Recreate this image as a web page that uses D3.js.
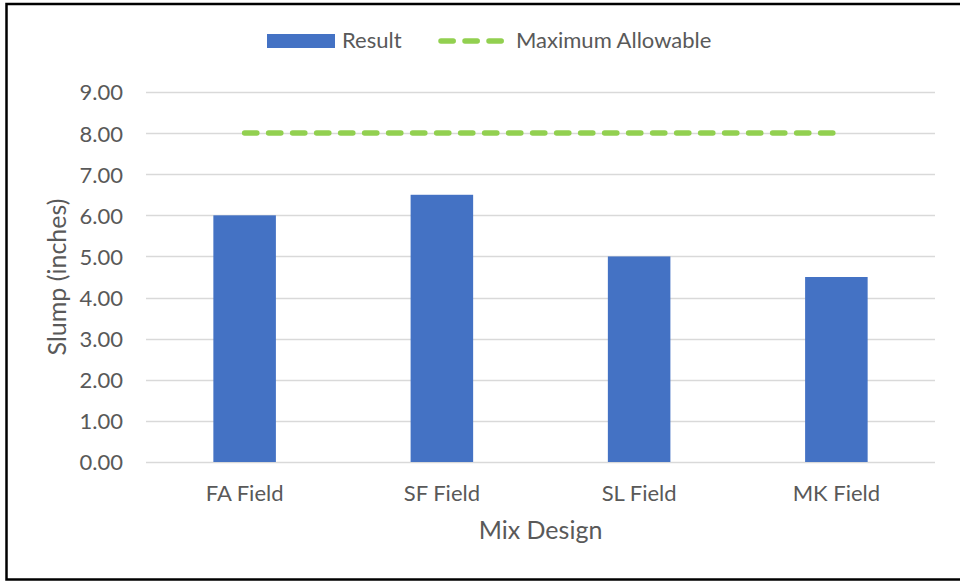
<!DOCTYPE html>
<html>
<head>
<meta charset="utf-8">
<script src="https://cdn.jsdelivr.net/npm/d3@7"></script>
<style>
  html, body { margin: 0; padding: 0; background: #fff; }
  svg { display: block; }
  text { font-family: Lato, "Open Sans", sans-serif; fill: #595959; }
</style>
</head>
<body>
<svg id="chart" width="960" height="581"></svg>
<script>
// Slump results by mix design
const categories = ["FA Field", "SF Field", "SL Field", "MK Field"];
const resultValues = [6.0, 6.5, 5.0, 4.5];
const maxAllowable = [8.0, 8.0, 8.0, 8.0];
const yTicks = [0, 1, 2, 3, 4, 5, 6, 7, 8, 9];
const seriesNames = ["Result", "Maximum Allowable"];

const W = 960, H = 581;
const margin = { left: 146, right: 25, top: 92, bottom: 119 };

const svg = d3.select("#chart");

// frame
svg.append("path")
  .attr("d", `M ${W + 5} 4 H 6.5 V 579.5 H ${W + 5}`)
  .attr("fill", "none")
  .attr("stroke", "#000")
  .attr("stroke-width", 2.5);

const x = d3.scaleBand()
  .domain(categories)
  .range([margin.left, W - margin.right])
  .paddingInner(0.683)
  .paddingOuter(0.3415);

const xCenter = d3.scaleBand()
  .domain(categories)
  .range([margin.left, W - margin.right]);

const y = d3.scaleLinear()
  .domain([0, 9])
  .range([H - margin.bottom, margin.top]);

// horizontal gridlines
svg.append("g")
  .selectAll("line")
  .data(yTicks)
  .join("line")
  .attr("x1", margin.left)
  .attr("x2", W - margin.right)
  .attr("y1", d => Math.round(y(d)) + 0.5)
  .attr("y2", d => Math.round(y(d)) + 0.5)
  .attr("stroke", "#d9d9d9")
  .attr("stroke-width", 1.3);

// y axis tick labels
const yAxis = d3.axisLeft(y)
  .tickValues(yTicks)
  .tickFormat(d3.format(".2f"))
  .tickSize(0)
  .tickPadding(0);
const gy = svg.append("g")
  .attr("transform", `translate(${margin.left - 23},0)`)
  .call(yAxis);
gy.select(".domain").remove();
gy.selectAll("text")
  .style("font-family", "Lato, sans-serif")
  .style("font-size", "22px")
  .attr("fill", "#595959")
  .attr("dy", "0.36em");

// bars
svg.append("g")
  .selectAll("rect")
  .data(categories.map((c, i) => ({ c, v: resultValues[i] })))
  .join("rect")
  .attr("x", d => x(d.c))
  .attr("width", x.bandwidth())
  .attr("y", d => y(d.v))
  .attr("height", d => y(0) - y(d.v))
  .attr("fill", "#4472c4");

// maximum allowable line
const line = d3.line()
  .x(d => xCenter(d.c) + xCenter.bandwidth() / 2)
  .y(d => y(d.v));
svg.append("path")
  .datum(categories.map((c, i) => ({ c, v: maxAllowable[i] })))
  .attr("d", line)
  .attr("fill", "none")
  .attr("stroke", "#92d050")
  .attr("stroke-width", 5.5)
  .attr("stroke-linecap", "round")
  .attr("stroke-dasharray", "12.2 11.8");

// x axis labels
const xAxis = d3.axisBottom(xCenter).tickSize(0).tickPadding(0);
const gx = svg.append("g")
  .attr("transform", `translate(0,${y(0)})`)
  .call(xAxis);
gx.select(".domain").remove();
gx.selectAll("text")
  .style("font-family", "Lato, sans-serif")
  .style("font-size", "22px")
  .attr("fill", "#595959")
  .attr("dy", null)
  .attr("y", 39);

// axis titles
svg.append("text")
  .attr("x", (margin.left + W - margin.right) / 2)
  .attr("y", 539)
  .attr("text-anchor", "middle")
  .style("font-size", "25px")
  .text("Mix Design");

svg.append("text")
  .attr("transform", `translate(66,${(y(0) + y(9)) / 2}) rotate(-90)`)
  .attr("text-anchor", "middle")
  .style("font-size", "25px")
  .text("Slump (inches)");

// legend
const legend = svg.append("g");
legend.append("rect")
  .attr("x", 267).attr("y", 34)
  .attr("width", 68).attr("height", 14)
  .attr("fill", "#4472c4");
legend.append("text")
  .attr("x", 342).attr("y", 48)
  .style("font-size", "22px")
  .text(seriesNames[0]);
legend.append("line")
  .attr("x1", 441).attr("x2", 502)
  .attr("y1", 41).attr("y2", 41)
  .attr("stroke", "#92d050")
  .attr("stroke-width", 5.5)
  .attr("stroke-linecap", "round")
  .attr("stroke-dasharray", "12.2 11.8");
legend.append("text")
  .attr("x", 516).attr("y", 48)
  .style("font-size", "22px")
  .text(seriesNames[1]);
</script>
</body>
</html>
